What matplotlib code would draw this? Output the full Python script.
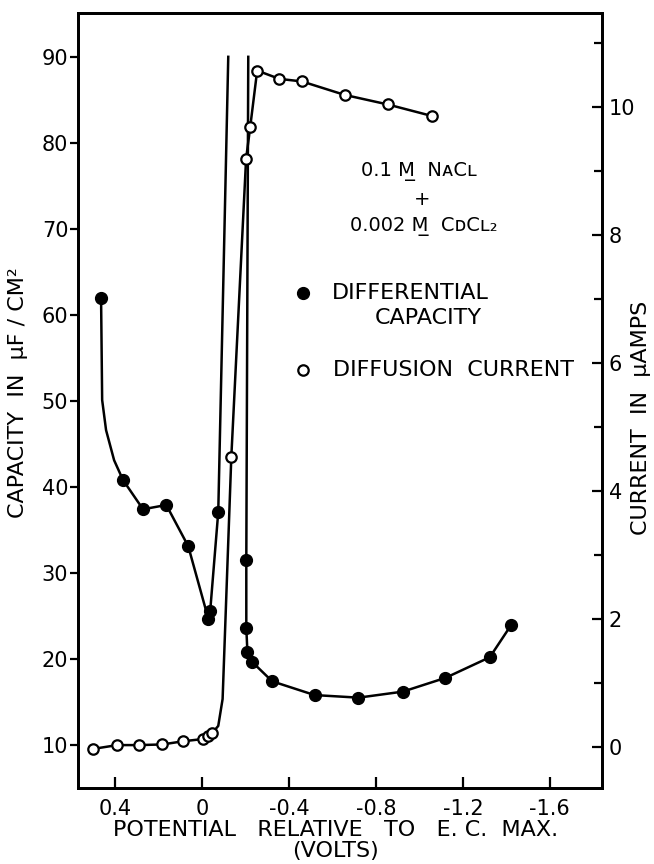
import matplotlib
matplotlib.use("Agg")
import numpy as np
import matplotlib.pyplot as plt
from matplotlib.ticker import FixedLocator, MultipleLocator

# Capacidad diferencial (puntos llenos), eje izquierdo, uF/cm2
cap_v = [0.464, 0.363, 0.271, 0.164, 0.063, -0.029, -0.038, -0.075,
         -0.204, -0.204, -0.209, -0.229, -0.323, -0.518, -0.720, -0.924,
         -1.120, -1.324, -1.421]
cap_c = [62.0, 40.8, 37.4, 37.9, 33.1, 24.7, 25.6, 37.1,
         31.5, 23.6, 20.85, 19.7, 17.4, 15.8, 15.5, 16.2,
         17.8, 20.2, 23.9]
# forma de la curva justo despues del primer punto
cap_bend_v = [0.459, 0.441, 0.404]
cap_bend_c = [50.1, 46.6, 43.1]
# donde las dos ramas salen por arriba (pico recortado)
cap_peak_v = [-0.121, -0.213]
cap_peak_c = [90.0, 90.0]

# Corriente de difusion (circulos abiertos), eje derecho, uA
cur_v = [0.501, 0.390, 0.289, 0.182, 0.086, -0.006, -0.029, -0.048,
         -0.135, -0.203, -0.222, -0.254, -0.356, -0.460, -0.656, -0.855,
         -1.058]
cur_i = [-0.03, 0.03, 0.03, 0.04, 0.09, 0.125, 0.17, 0.22,
         4.53, 9.19, 9.69, 10.57, 10.44, 10.40, 10.19, 10.04,
         9.86]
# codo de la curva antes de la subida
cur_knee_v = [-0.075, -0.095]
cur_knee_i = [0.33, 0.75]

x_ticks = [0.4, 0.0, -0.4, -0.8, -1.2, -1.6]
x_ticklabels = ["0.4", "0", "-0.4", "-0.8", "-1.2", "-1.6"]
left_ticks = [10, 20, 30, 40, 50, 60, 70, 80, 90]
right_ticks = [0, 2, 4, 6, 8, 10]

plt.rcParams["font.family"] = ["DejaVu Sans"]
plt.rcParams["font.size"] = 15

fig = plt.figure(figsize=(6.54, 8.64), dpi=100)
ax = fig.add_axes([0.1193, 0.088, 0.8012, 0.897])
ax2 = ax.twinx()

# rama izquierda: primer punto, codo, resto, pico
n_left = 8
lv = [cap_v[0]] + cap_bend_v + cap_v[1:n_left] + [cap_peak_v[0]]
lc = [cap_c[0]] + cap_bend_c + cap_c[1:n_left] + [cap_peak_c[0]]
rv = [cap_peak_v[1]] + cap_v[n_left:]
rc = [cap_peak_c[1]] + cap_c[n_left:]
ax.plot(lv, lc, color="black", lw=1.8, zorder=2)
ax.plot(rv, rc, color="black", lw=1.8, zorder=2)
ax.plot(cap_v, cap_c, "o", color="black", ms=8.5, zorder=4)

# corriente: linea con el codo intercalado
n_flat = 8
cv = cur_v[:n_flat] + cur_knee_v + cur_v[n_flat:]
ci = cur_i[:n_flat] + cur_knee_i + cur_i[n_flat:]
ax2.plot(cv, ci, color="black", lw=1.8, zorder=2)
ax2.plot(cur_v, cur_i, "o", mfc="white", mec="black", mew=1.6, ms=7.5, zorder=3)

ax.set_xlim(0.57, -1.84)
ax.set_ylim(5, 95.1)
ax2.set_ylim(-0.64, 11.47)

ax.xaxis.set_major_locator(FixedLocator(x_ticks))
ax.set_xticklabels(x_ticklabels)
ax.yaxis.set_major_locator(FixedLocator(left_ticks))
ax2.yaxis.set_major_locator(FixedLocator(right_ticks))
ax2.yaxis.set_minor_locator(MultipleLocator(1))

for a in (ax, ax2):
    for s in a.spines.values():
        s.set_linewidth(2)

ax.tick_params(axis="y", direction="out", length=6, width=1.6, pad=1, labelsize=15)
ax.tick_params(axis="x", direction="in", length=8, width=1.6, pad=8, labelsize=15, top=False)
ax2.tick_params(axis="y", which="major", direction="in", length=7, width=1.6, pad=5, labelsize=15)
ax2.tick_params(axis="y", which="minor", direction="in", length=6, width=1.6)

ax.set_ylabel("CAPACITY  IN  \u03bcF / CM\u00b2", fontsize=16)
ax.yaxis.set_label_coords(-0.096, 0.51)
ax2.set_ylabel("CURRENT  IN  \u03bcAMPS", fontsize=16)
ax2.yaxis.set_label_coords(1.056, 0.477)
ax.set_xlabel("POTENTIAL   RELATIVE   TO   E. C.  MAX.\n(VOLTS)", fontsize=16,
              linespacing=1.05, multialignment="center")
ax.xaxis.set_label_coords(0.492, -0.041)

# composicion de la solucion
ax.text(0.650, 0.795, "0.1 M\u0332  N\u1d00C\u029f", transform=ax.transAxes,
        ha="center", va="center", fontsize=14)
ax.text(0.656, 0.759, "+", transform=ax.transAxes, ha="center", va="center", fontsize=14)
ax.text(0.660, 0.725, "0.002 M\u0332  C\u1d05C\u029f\u2082", transform=ax.transAxes,
        ha="center", va="center", fontsize=14)

# leyenda dibujada a mano
ax.plot([0.429], [0.639], "o", color="black", ms=8.5, transform=ax.transAxes, clip_on=False)
ax.plot([0.429], [0.539], "o", mfc="white", mec="black", mew=1.6, ms=7.5,
        transform=ax.transAxes, clip_on=False)
ax.text(0.485, 0.639, "DIFFERENTIAL", transform=ax.transAxes, ha="left", va="center", fontsize=16)
ax.text(0.668, 0.606, "CAPACITY", transform=ax.transAxes, ha="center", va="center", fontsize=16)
ax.text(0.487, 0.539, "DIFFUSION  CURRENT", transform=ax.transAxes, ha="left", va="center", fontsize=16)

fig.savefig("out.png", dpi=100)
